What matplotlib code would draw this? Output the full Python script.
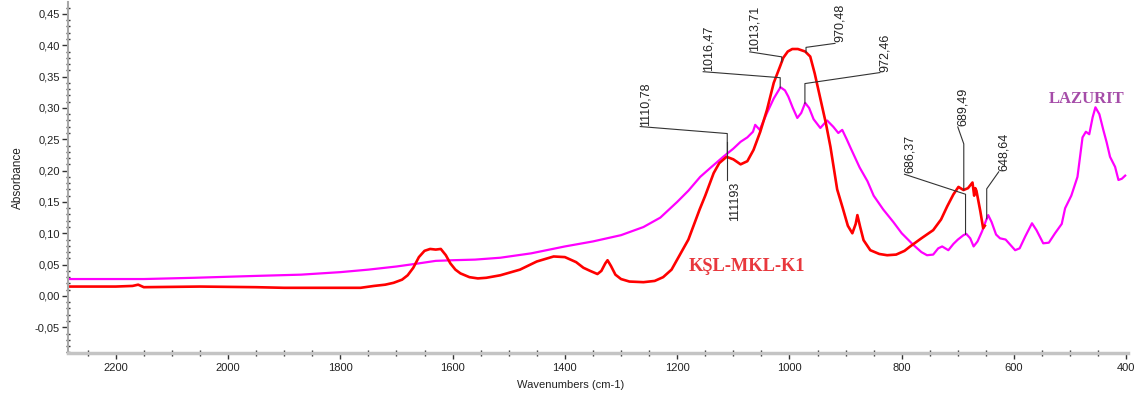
import numpy as np
import matplotlib
matplotlib.use('Agg')
import matplotlib.pyplot as plt
from matplotlib.ticker import MultipleLocator, FuncFormatter

# ── Spectra (wavenumber cm-1, absorbance) ─────────────────────────────────────
lazurit_wn = [2285, 2150, 2060, 1950, 1870, 1800, 1750, 1700, 1660, 1630, 1600, 1560,
              1515, 1460, 1400, 1350, 1300, 1260, 1230, 1200, 1180, 1159, 1140, 1118,
              1100, 1087, 1075, 1065, 1061, 1053, 1040, 1028, 1016, 1008, 1002, 994,
              986, 979, 972, 965, 957, 945, 939, 933, 922, 913, 906, 898, 891, 875,
              861, 850, 833, 815, 800, 780, 765, 755, 744, 735, 728, 717, 708, 700,
              690, 685, 678, 672, 665, 657, 650, 646, 640, 632, 625, 615, 605, 598,
              590, 580, 568, 560, 548, 538, 527, 515, 509, 498, 487, 478, 472, 466,
              460, 455, 448, 441, 435, 429, 420, 414, 408, 402]
lazurit_abs = [0.027, 0.027, 0.029, 0.032, 0.034, 0.038, 0.042, 0.047, 0.052, 0.056, 0.057, 0.058,
               0.061, 0.068, 0.079, 0.087, 0.097, 0.110, 0.125, 0.150, 0.168, 0.190, 0.205, 0.222,
               0.235, 0.246, 0.253, 0.262, 0.273, 0.265, 0.292, 0.315, 0.333, 0.328, 0.318, 0.300,
               0.284, 0.292, 0.308, 0.300, 0.282, 0.268, 0.274, 0.280, 0.270, 0.260, 0.265, 0.250,
               0.236, 0.205, 0.183, 0.160, 0.138, 0.118, 0.100, 0.082, 0.070, 0.065, 0.066, 0.076,
               0.079, 0.073, 0.083, 0.090, 0.097, 0.099, 0.092, 0.079, 0.087, 0.103, 0.120, 0.129,
               0.118, 0.098, 0.092, 0.090, 0.080, 0.073, 0.076, 0.095, 0.116, 0.105, 0.084, 0.085,
               0.100, 0.115, 0.140, 0.160, 0.190, 0.253, 0.262, 0.258, 0.285, 0.301, 0.290, 0.265,
               0.245, 0.222, 0.206, 0.185, 0.187, 0.192]

ksl_wn = [2285, 2200, 2170, 2160, 2150, 2050, 1950, 1900, 1800, 1764, 1740, 1720, 1705,
          1690, 1680, 1670, 1660, 1650, 1640, 1630, 1621, 1612, 1604, 1595, 1586, 1570,
          1555, 1540, 1515, 1480, 1450, 1420, 1400, 1380, 1367, 1355, 1342, 1335, 1328,
          1324, 1318, 1310, 1300, 1285, 1260, 1240, 1225, 1210, 1200, 1180, 1160, 1150,
          1135, 1125, 1112, 1100, 1087, 1075, 1064, 1052, 1040, 1028, 1016, 1011, 1003,
          995, 985, 972, 963, 955, 945, 935, 927, 915, 905, 896, 888, 882, 879, 874, 868,
          856, 840, 826, 810, 795, 785, 765, 744, 730, 719, 708, 699, 690, 682, 674, 671,
          669, 667, 660, 655, 652]
ksl_abs = [0.015, 0.015, 0.016, 0.018, 0.014, 0.015, 0.014, 0.013, 0.013, 0.013, 0.016, 0.018, 0.021,
           0.026, 0.033, 0.045, 0.062, 0.072, 0.075, 0.074, 0.075, 0.065, 0.052, 0.042, 0.036, 0.030,
           0.028, 0.029, 0.033, 0.042, 0.055, 0.063, 0.062, 0.054, 0.045, 0.040, 0.035, 0.040, 0.052,
           0.057, 0.048, 0.034, 0.027, 0.023, 0.022, 0.024, 0.030, 0.042, 0.058, 0.090, 0.138, 0.160,
           0.196, 0.212, 0.222, 0.218, 0.210, 0.215, 0.233, 0.262, 0.297, 0.340, 0.368, 0.380, 0.390,
           0.394, 0.394, 0.390, 0.382, 0.355, 0.315, 0.275, 0.238, 0.170, 0.140, 0.112, 0.100, 0.115,
           0.129, 0.110, 0.089, 0.073, 0.067, 0.065, 0.066, 0.072, 0.079, 0.092, 0.105, 0.122, 0.143,
           0.162, 0.174, 0.169, 0.172, 0.181, 0.160, 0.172, 0.168, 0.135, 0.108, 0.112]

# ── Peak annotations ──────────────────────────────────────────────────────────
ann_labels = ["1110,78", "1016,47", "1013,71", "970,48", "972,46", "686,37", "689,49", "648,64"]
ann_wn = [1110.78, 1016.47, 1013.71, 970.48, 972.46, 686.37, 689.49, 648.64]
ann_series = ["L", "L", "K", "K", "L", "L", "K", "L"]
# leader geometry in pixels: vertical rise from peak, then diagonal (dx, dy)
ann_rise = [20, 10, 5, 5, 20, 40, 46, 30]
ann_dx = [-87, -77, -32, 29, 75, -61, -6, 12]
ann_dy = [7, 6, 5, 4, 11, 20, 17, 17]

low_label = "111193"
low_wn = 1111.93

# ── Styling ───────────────────────────────────────────────────────────────────
magenta = "#ff00ff"
red = "#ff0000"
axis_grey = "#a8a8a8"
text_dark = "#222222"

plt.rcParams['font.family'] = ['Liberation Sans', 'DejaVu Sans']

fig = plt.figure(figsize=(11.39, 3.98), dpi=100)
ax = fig.add_axes([68 / 1139, 45 / 398, 1060 / 1139, 351 / 398])

ax.plot(lazurit_wn, lazurit_abs, color=magenta, linewidth=1.6, solid_joinstyle='round')
ax.plot(ksl_wn, ksl_abs, color=red, linewidth=1.9, solid_joinstyle='round')

ax.set_xlim(2285, 397)
ax.set_ylim(-0.091, 0.469)

ax.xaxis.set_major_locator(MultipleLocator(200))
ax.xaxis.set_minor_locator(MultipleLocator(50))
ax.yaxis.set_major_locator(MultipleLocator(0.05))
ax.yaxis.set_minor_locator(MultipleLocator(0.01))
ax.yaxis.set_major_formatter(FuncFormatter(lambda v, p: f"{v:.2f}".replace('.', ',')))

for s in ['top', 'right']:
    ax.spines[s].set_visible(False)
ax.spines['left'].set_color(axis_grey)
ax.spines['left'].set_linewidth(1.5)
ax.spines['bottom'].set_color("#c4c4c4")
ax.spines['bottom'].set_linewidth(2.5)

ax.tick_params(axis='x', which='major', direction='out', length=4, width=1,
               color='#333333', labelsize=8, labelcolor=text_dark, pad=3)
ax.tick_params(axis='x', which='minor', direction='inout', length=4, width=1, color='#333333')
ax.tick_params(axis='y', which='major', direction='out', length=4, width=1,
               color='#333333', labelsize=8, labelcolor=text_dark, pad=2)
ax.tick_params(axis='y', which='minor', direction='inout', length=3, width=1, color='#333333')

ax.set_xlabel("Wavenumbers (cm-1)", fontsize=8, color=text_dark)
ax.xaxis.set_label_coords(0.474, -0.078)
ax.set_ylabel("Absorbance", fontsize=8.5, color=text_dark)
ax.yaxis.set_label_coords(-0.042, 0.5)

# series labels
ax.text(0.5855, 0.222, "KŞL-MKL-K1", transform=ax.transAxes, fontsize=13.2,
        fontweight='bold', color="#e8383d", family='Liberation Serif', ha='left', va='bottom')
ax.text(0.925, 0.700, "LAZURIT", transform=ax.transAxes, fontsize=12,
        fontweight='bold', color="#a54ca8", family='Liberation Serif', ha='left', va='bottom')

# leader-line annotations, built in pixel space from the peak position
fig.canvas.draw()
to_px = ax.transData.transform
to_data = ax.transData.inverted().transform
curves = {"L": (lazurit_wn, lazurit_abs), "K": (ksl_wn, ksl_abs)}

for lab, wn, ser, rise, dx, dy in zip(ann_labels, ann_wn, ann_series, ann_rise, ann_dx, ann_dy):
    cx, cy = curves[ser]
    y0 = np.interp(wn, cx[::-1], cy[::-1])
    p0 = to_px((wn, y0))
    p1 = p0 + np.array([0, rise])
    p2 = p1 + np.array([dx, dy])
    pts = to_data(np.array([p0, p1, p2]))
    ax.plot(pts[:, 0], pts[:, 1], color='#333333', linewidth=0.8, clip_on=False)
    tpos = to_data(p2 + np.array([-1, 1]))
    ax.text(tpos[0], tpos[1], lab, rotation=90, fontsize=9, color=text_dark,
            ha='left', va='bottom')

cx, cy = curves["K"]
y0 = np.interp(low_wn, cx[::-1], cy[::-1])
p0 = to_px((low_wn, y0))
pts = to_data(np.array([p0 + np.array([0, 15]), p0 - np.array([0, 23])]))
ax.plot(pts[:, 0], pts[:, 1], color='#333333', linewidth=0.8)
tpos = to_data(p0 + np.array([2, -25]))
ax.text(tpos[0], tpos[1], low_label, rotation=90, fontsize=9, color=text_dark,
        ha='left', va='top')

fig.savefig("out.png", dpi=100, facecolor='white')
